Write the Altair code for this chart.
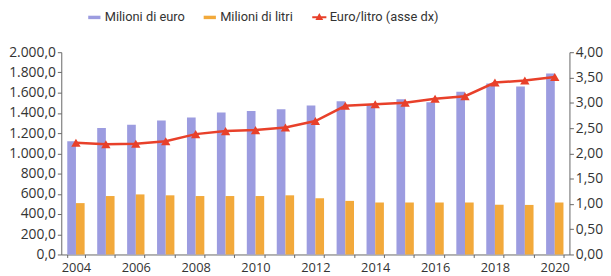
import altair as alt
import pandas as pd

years = list(range(2004, 2021))
milioni_euro = [1120, 1250, 1283, 1324, 1355, 1403, 1419, 1435, 1473, 1514, 1485, 1535, 1505, 1610, 1690, 1660, 1790]
milioni_litri = [508, 578, 594, 585, 578, 578, 578, 585, 556, 530, 514, 514, 514, 514, 492, 490, 514]
euro_litro = [2.21, 2.18, 2.19, 2.24, 2.38, 2.44, 2.46, 2.51, 2.64, 2.94, 2.97, 3.00, 3.08, 3.13, 3.40, 3.44, 3.51]

bar_series = ["Milioni di euro", "Milioni di litri"]
line_series = "Euro/litro (asse dx)"

rows = []
for i, y in enumerate(years):
    rows.append({"year": y, "series": bar_series[0], "value": milioni_euro[i]})
    rows.append({"year": y, "series": bar_series[1], "value": milioni_litri[i]})
bars_df = pd.DataFrame(rows)
line_df = pd.DataFrame({"year": years, "ratio": euro_litro, "series": [line_series] * len(years)})

FONT = "Open Sans"
LEGEND_FONT = "Roboto"
TXT = "#333333"

x_enc = alt.X(
    "year:O",
    title=None,
    scale=alt.Scale(paddingInner=0.42, paddingOuter=0.2),
    axis=alt.Axis(
        labelAngle=0,
        labelExpr="datum.value % 2 == 0 ? datum.label : ''",
        tickBand="extent",
        tickSize=3,
        labelPadding=4,
        labelFontSize=13,
    ),
)

bars = alt.Chart(bars_df).mark_bar().encode(
    x=x_enc,
    xOffset=alt.XOffset("series:N", sort=bar_series),
    y=alt.Y(
        "value:Q",
        title=None,
        scale=alt.Scale(domain=[0, 2000], nice=False),
        axis=alt.Axis(
            orient="left",
            values=list(range(0, 2001, 200)),
            labelExpr="replace(replace(replace(format(datum.value, ',.1f'), ',', '#'), '.', ','), '#', '.')",
            tickSize=4,
        ),
    ),
    color=alt.Color(
        "series:N",
        sort=bar_series,
        scale=alt.Scale(domain=bar_series, range=["#9c9ce0", "#f2a93b"]),
        legend=alt.Legend(
            title=None,
            orient="none",
            legendX=27,
            legendY=-42,
            direction="horizontal",
            symbolType="M-1.6,-0.45H1.6V0.45H-1.6Z",
            symbolSize=60,
            symbolStrokeWidth=0,
            columnPadding=18,
        ),
    ),
)

line = alt.Chart(line_df).mark_line(
    color="#e8402a", strokeWidth=2.5,
    point=alt.OverlayMarkDef(shape="triangle-up", size=90, filled=True, color="#e8402a"),
).encode(
    x=x_enc,
    y=alt.Y(
        "ratio:Q",
        title=None,
        scale=alt.Scale(domain=[0, 4], nice=False),
        axis=alt.Axis(
            orient="right",
            values=[0, 0.5, 1, 1.5, 2, 2.5, 3, 3.5, 4],
            labelExpr="replace(format(datum.value, '.2f'), '.', ',')",
            tickSize=4,
        ),
    ),
    color=alt.Color(
        "series:N",
        scale=alt.Scale(domain=[line_series], range=["#e8402a"]),
        legend=alt.Legend(
            title=None,
            orient="none",
            legendX=255,
            legendY=-42,
            direction="horizontal",
            symbolType="M-1.6,0H1.6M0,-0.5L0.5,0.4L-0.5,0.4Z",
            symbolSize=80,
            symbolStrokeWidth=2,
            symbolFillColor="#e8402a",
            symbolStrokeColor="#e8402a",
        ),
    ),
)

chart = alt.layer(bars, line).resolve_scale(
    y="independent", color="independent"
).properties(
    width=603,
    height=268,
    autosize=alt.AutoSizeParams(type="fit", contains="padding"),
    padding={"left": 0, "right": 0, "top": 36, "bottom": 0},
).configure_view(
    stroke=None
).configure_axis(
    grid=False,
    labelFont=FONT,
    labelFontSize=14,
    labelColor=TXT,
    domainColor="#666666",
    tickColor="#666666",
).configure_legend(
    labelFont=LEGEND_FONT,
    labelFontSize=13,
    labelColor=TXT,
    padding=0,
)

chart.save("out.html", embed_options={"renderer": "svg", "actions": False})
